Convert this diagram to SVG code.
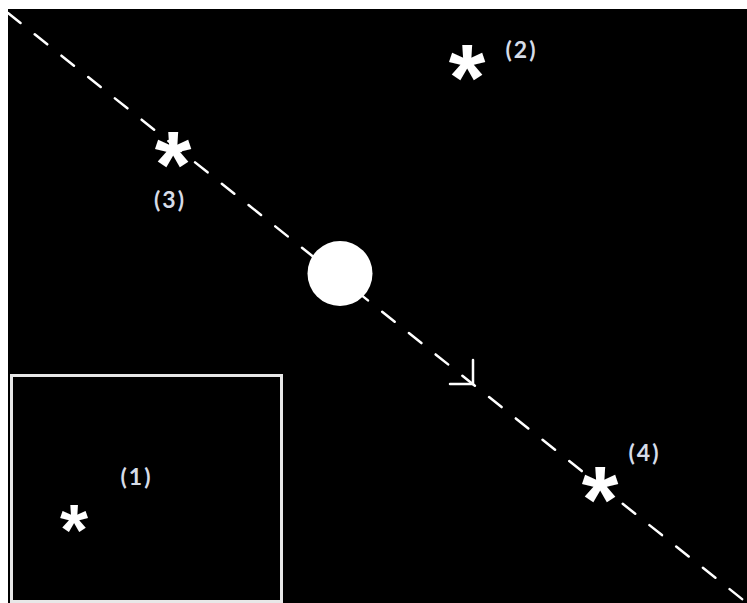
<svg xmlns="http://www.w3.org/2000/svg" width="747" height="603" viewBox="0 0 747 603">
<style>
.star{font-family:"Liberation Sans",Arial,sans-serif;font-weight:bold;fill:#ffffff;text-anchor:middle}
.lbl{font-family:Lato,"Liberation Sans",sans-serif;font-weight:bold;font-size:23px;fill:#d6dce8;text-anchor:middle;letter-spacing:2px}
.path{stroke:#ffffff;stroke-width:2.5;fill:none;stroke-linecap:round}
</style>
<rect x="0" y="0" width="747" height="603" fill="#ffffff"/>
<rect x="8" y="9" width="739" height="594" fill="#000000"/>
<g id="connectors">
<line class="path" x1="8" y1="13" x2="747" y2="603" stroke-dasharray="16 18.2"/>
<path class="path" d="M473,360 L473,384 L450,384"/>
</g>
<g id="ball"><circle cx="340" cy="273.5" r="32.5" fill="#ffffff"/></g>
<g id="inset"><rect x="11.5" y="375.5" width="270" height="226" fill="none" stroke="#e8e8e8" stroke-width="3"/></g>
<g id="star1"><text class="star" x="74" y="555" font-size="72">*</text><text class="lbl" x="136.5" y="485">(1)</text></g>
<g id="star2"><text class="star" x="467" y="110" font-size="94">*</text><text class="lbl" x="521.5" y="58">(2)</text></g>
<g id="star3"><text class="star" x="173" y="197" font-size="94">*</text><text class="lbl" x="170" y="208">(3)</text></g>
<g id="star4"><text class="star" x="600" y="532" font-size="94">*</text><text class="lbl" x="644.5" y="461">(4)</text></g>
</svg>
